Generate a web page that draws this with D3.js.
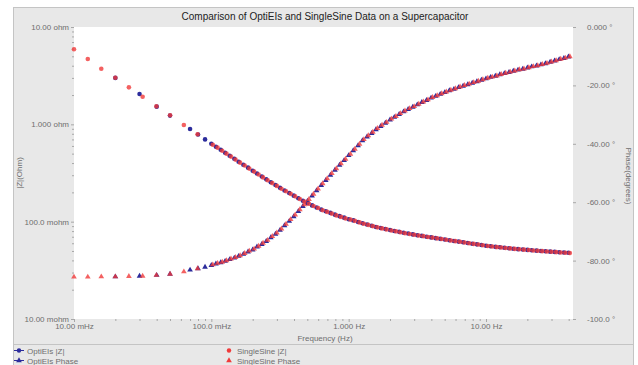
<!DOCTYPE html>
<html>
<head>
<meta charset="utf-8">
<script src="https://cdn.jsdelivr.net/npm/d3@7"></script>
<style>
  body { margin: 0; background: #fff; }
  text { font-family: "Liberation Sans", Arial, sans-serif; }
</style>
</head>
<body>
<div id="chart"></div>
<script>
// OptiEIs data
let oeFreq = [0.02, 0.03, 0.04, 0.05, 0.07, 0.08, 0.09,
  0.100, 0.108, 0.117, 0.126, 0.136, 0.147, 0.158, 0.171, 0.185, 0.200,
  0.215, 0.233, 0.251, 0.271, 0.293, 0.316, 0.341, 0.369, 0.398, 0.430,
  0.464, 0.501, 0.541, 0.584, 0.631, 0.681, 0.736, 0.794, 0.858, 0.926,
  1.00, 1.08, 1.17, 1.26, 1.36, 1.47, 1.58, 1.71, 1.85, 2.00,
  2.15, 2.33, 2.51, 2.71, 2.93, 3.16, 3.41, 3.69, 3.98, 4.30,
  4.64, 5.01, 5.41, 5.84, 6.31, 6.81, 7.36, 7.94, 8.58, 9.26,
  10.0, 10.8, 11.7, 12.6, 13.6, 14.7, 15.8, 17.1, 18.5, 20.0,
  21.5, 23.3, 25.1, 27.1, 29.3, 31.6, 34.1, 36.9, 39.8];
let oeZ = [3.00, 2.05, 1.52, 1.23, 0.895, 0.785, 0.700,
  0.631, 0.588, 0.548, 0.511, 0.476, 0.443, 0.413, 0.385, 0.359, 0.334,
  0.312, 0.291, 0.272, 0.254, 0.238, 0.223, 0.209, 0.197, 0.185, 0.174,
  0.164, 0.155, 0.147, 0.140, 0.133, 0.128, 0.123, 0.118, 0.114, 0.110,
  0.106, 0.103, 0.0993, 0.0962, 0.0935, 0.0908, 0.0883, 0.0862, 0.0841, 0.0820,
  0.0803, 0.0786, 0.0769, 0.0755, 0.0740, 0.0726, 0.0714, 0.0701, 0.0689, 0.0677,
  0.0666, 0.0655, 0.0644, 0.0634, 0.0624, 0.0614, 0.0604, 0.0594, 0.0585, 0.0575,
  0.0566, 0.0559, 0.0551, 0.0545, 0.0539, 0.0533, 0.0527, 0.0522, 0.0518, 0.0513,
  0.0508, 0.0504, 0.0500, 0.0496, 0.0492, 0.0489, 0.0485, 0.0482, 0.0479];
let oePhase = [-85.5, -85.3, -85.0, -84.6, -83.2, -82.7, -82.2,
  -81.6, -81.1, -80.7, -80.2, -79.6, -79.1, -78.5, -77.8, -77.0, -76.3,
  -75.3, -74.4, -73.4, -72.1, -70.9, -69.6, -68.0, -66.5, -64.9, -63.1,
  -61.4, -59.6, -57.8, -56.0, -54.2, -52.5, -50.7, -49.0, -47.3, -45.7,
  -44.0, -42.3, -40.6, -38.9, -37.6, -36.4, -35.1, -34.0, -32.9, -31.8,
  -30.9, -29.9, -29.0, -28.2, -27.4, -26.6, -25.8, -25.1, -24.3, -23.7,
  -23.0, -22.4, -21.8, -21.3, -20.7, -20.2, -19.7, -19.2, -18.7, -18.2,
  -17.7, -17.2, -16.8, -16.3, -15.9, -15.5, -15.1, -14.7, -14.4, -14.0,
  -13.6, -13.3, -12.9, -12.5, -12.0, -11.6, -11.1, -10.7, -10.2];

// SingleSine data
let ssFreq = [0.01, 0.0126, 0.0158, 0.02, 0.0251, 0.0316, 0.0398, 0.0501, 0.0631, 0.0794,
  0.1025, 0.111, 0.120, 0.129, 0.139, 0.150, 0.162, 0.175, 0.189, 0.205,
  0.221, 0.238, 0.257, 0.278, 0.300, 0.324, 0.350, 0.378, 0.408, 0.441,
  0.476, 0.514, 0.555, 0.599, 0.647, 0.698, 0.754, 0.814, 0.879, 0.949,
  1.03, 1.11, 1.20, 1.29, 1.39, 1.50, 1.62, 1.75, 1.89, 2.05,
  2.21, 2.38, 2.57, 2.78, 3.00, 3.24, 3.50, 3.78, 4.08, 4.41,
  4.76, 5.14, 5.55, 5.99, 6.47, 6.98, 7.54, 8.14, 8.79, 9.49,
  10.3, 11.1, 12.0, 12.9, 13.9, 15.0, 16.2, 17.5, 18.9, 20.5,
  22.1, 23.8, 25.7, 27.8, 30.0, 32.4, 35.0, 37.8, 40.8];
let ssZ = [5.90, 4.69, 3.72, 3.01, 2.40, 1.92, 1.53, 1.24, 0.984, 0.790,
  0.618, 0.576, 0.536, 0.500, 0.466, 0.434, 0.404, 0.377, 0.351, 0.327,
  0.305, 0.285, 0.266, 0.249, 0.233, 0.218, 0.205, 0.193, 0.182, 0.171,
  0.161, 0.153, 0.145, 0.138, 0.131, 0.126, 0.121, 0.116, 0.112, 0.108,
  0.105, 0.102, 0.0983, 0.0952, 0.0926, 0.0899, 0.0874, 0.0853, 0.0833, 0.0812,
  0.0795, 0.0778, 0.0761, 0.0747, 0.0733, 0.0722, 0.0710, 0.0697, 0.0686, 0.0674,
  0.0663, 0.0652, 0.0641, 0.0631, 0.0621, 0.0611, 0.0601, 0.0591, 0.0582, 0.0572,
  0.0563, 0.0556, 0.0548, 0.0543, 0.0537, 0.0531, 0.0525, 0.0520, 0.0516, 0.0511,
  0.0506, 0.0502, 0.0498, 0.0494, 0.0490, 0.0487, 0.0483, 0.0480, 0.0477];
let ssPhase = [-85.6, -85.6, -85.5, -85.5, -85.4, -85.3, -85.0, -84.6, -83.8, -82.7,
  -81.4, -80.9, -80.5, -80.0, -79.4, -78.9, -78.3, -77.5, -76.7, -76.0,
  -75.0, -74.0, -73.0, -71.7, -70.5, -69.1, -67.5, -65.9, -64.3, -62.5,
  -60.8, -59.0, -57.2, -55.4, -53.6, -51.9, -50.1, -48.5, -46.8, -45.2,
  -43.5, -41.8, -40.1, -38.5, -37.2, -36.0, -34.7, -33.6, -32.6, -31.5,
  -30.6, -29.6, -28.7, -27.9, -27.2, -26.4, -25.6, -24.9, -24.1, -23.5,
  -22.8, -22.2, -21.6, -21.1, -20.5, -20.0, -19.5, -19.0, -18.5, -18.0,
  -17.5, -17.1, -16.7, -16.2, -15.8, -15.4, -15.0, -14.6, -14.3, -13.9,
  -13.5, -13.2, -12.8, -12.4, -11.9, -11.5, -11.0, -10.6, -10.1];

// ticks
let freqTicks = [0.01, 0.1, 1, 10];
let freqLabels = ['10.00 mHz', '100.0 mHz', '1.000 Hz', '10.00 Hz'];
let zTicks = [10, 1, 0.1, 0.01];
let zLabels = ['10.00 ohm', '1.000 ohm', '100.0 mohm', '10.00 mohm'];
let phaseTicks = [0, -20, -40, -60, -80, -100];
let phaseLabels = ['0.000 \u00b0', '-20.00 \u00b0', '-40.00 \u00b0', '-60.00 \u00b0', '-80.00 \u00b0', '-100.0 \u00b0'];

let width = 638;
let height = 365;
let plot = {left: 74, right: 573, top: 27, bottom: 319};
let blue = '#2c2c9c';
let red = '#f03a3a';
let labelColor = '#6e6e6e';

let svg = d3.select('#chart')
    .append('svg')
    .attr('width', width)
    .attr('height', height);

// panel background
svg.append('rect')
    .attr('x', 13.5).attr('y', 7.5)
    .attr('width', 620).attr('height', 360)
    .attr('fill', '#e8e8e8')
    .attr('stroke', '#c4c4c4');
svg.append('line')
    .attr('x1', 13.5).attr('x2', 633.5)
    .attr('y1', 344.5).attr('y2', 344.5)
    .attr('stroke', '#c4c4c4');
svg.append('rect')
    .attr('x', plot.left).attr('y', plot.top)
    .attr('width', plot.right - plot.left)
    .attr('height', plot.bottom - plot.top)
    .attr('fill', '#fff');

let x = d3.scaleLog().domain([0.01, 43]).range([plot.left, plot.right]);
let yZ = d3.scaleLog().domain([0.01, 10]).range([plot.bottom, plot.top]);
let yP = d3.scaleLinear().domain([-100, 0]).range([plot.bottom, plot.top]);

function minorTicks(lo, hi) {
    let out = [];
    for (let d = lo; d < hi; d *= 10) {
        for (let m = 2; m < 10; m++) {
            if (d * m < hi) out.push(d * m);
        }
    }
    return out;
}

function styleAxis(g) {
    g.select('.domain').remove();
    g.selectAll('line').attr('stroke', '#a8a8a8');
    g.selectAll('text')
        .attr('fill', labelColor)
        .style('font-size', '8px')
        .style('font-family', '"Liberation Sans", Arial, sans-serif');
}

// x axis
svg.append('g')
    .attr('transform', 'translate(0,' + plot.bottom + ')')
    .call(d3.axisBottom(x).tickValues(freqTicks)
        .tickFormat((d, i) => freqLabels[i]).tickSize(3).tickPadding(1.5))
    .call(styleAxis);
svg.append('g')
    .attr('transform', 'translate(0,' + plot.bottom + ')')
    .call(d3.axisBottom(x).tickValues(minorTicks(0.01, 43)).tickFormat('').tickSize(2))
    .call(styleAxis);

// left axis
svg.append('g')
    .attr('transform', 'translate(' + plot.left + ',0)')
    .call(d3.axisLeft(yZ).tickValues(zTicks)
        .tickFormat((d, i) => zLabels[i]).tickSize(3).tickPadding(2))
    .call(styleAxis);
svg.append('g')
    .attr('transform', 'translate(' + plot.left + ',0)')
    .call(d3.axisLeft(yZ).tickValues(minorTicks(0.01, 10)).tickFormat('').tickSize(2))
    .call(styleAxis);

// right axis
svg.append('g')
    .attr('transform', 'translate(' + plot.right + ',0)')
    .call(d3.axisRight(yP).tickValues(phaseTicks)
        .tickFormat((d, i) => phaseLabels[i]).tickSize(3).tickPadding(11))
    .call(styleAxis);

// titles
svg.append('text')
    .attr('x', 325).attr('y', 20)
    .attr('text-anchor', 'middle')
    .attr('fill', '#222')
    .style('font-size', '10px')
    .text('Comparison of OptiEIs and SingleSine Data on a Supercapacitor');
svg.append('text')
    .attr('x', 325).attr('y', 341)
    .attr('text-anchor', 'middle')
    .attr('fill', labelColor)
    .style('font-size', '8px')
    .text('Frequency (Hz)');
svg.append('text')
    .attr('transform', 'translate(22,173) rotate(-90)')
    .attr('text-anchor', 'middle')
    .attr('fill', labelColor)
    .style('font-size', '8px')
    .text('|Z|(Ohm)');
svg.append('text')
    .attr('transform', 'translate(626,176) rotate(90)')
    .attr('text-anchor', 'middle')
    .attr('fill', labelColor)
    .style('font-size', '8px')
    .text('Phase(degrees)');

// markers
let tri = d3.symbol().type(d3.symbolTriangle).size(14);

function drawSeries(freq, z, phase, color, opacity) {
    let g = svg.append('g').attr('fill', color).attr('fill-opacity', opacity);
    g.selectAll('circle')
        .data(d3.zip(freq, z))
        .enter().append('circle')
        .attr('cx', d => x(d[0]))
        .attr('cy', d => yZ(d[1]))
        .attr('r', 2.3);
    g.selectAll('path')
        .data(d3.zip(freq, phase))
        .enter().append('path')
        .attr('d', tri)
        .attr('transform', d => 'translate(' + x(d[0]) + ',' + yP(d[1]) + ')');
}

drawSeries(oeFreq, oeZ, oePhase, blue, 1);
drawSeries(ssFreq, ssZ, ssPhase, red, 0.8);

// legend
let legendItems = [
    {name: 'OptiEIs |Z|', color: blue, shape: 'circle', line: true, x: 19, y: 350.5},
    {name: 'OptiEIs Phase', color: blue, shape: 'triangle', line: true, x: 19, y: 360.5},
    {name: 'SingleSine |Z|', color: red, shape: 'circle', line: false, x: 229, y: 350.5},
    {name: 'SingleSine Phase', color: red, shape: 'triangle', line: false, x: 229, y: 360.5}
];
let legend = svg.selectAll('.legend')
    .data(legendItems)
    .enter().append('g')
    .attr('class', 'legend')
    .attr('transform', d => 'translate(' + d.x + ',' + d.y + ')');
legend.filter(d => d.line).append('line')
    .attr('x1', -5).attr('x2', 5)
    .attr('stroke', d => d.color)
    .attr('stroke-width', 1);
legend.filter(d => d.shape == 'circle').append('circle')
    .attr('r', 2.2)
    .attr('fill', d => d.color);
legend.filter(d => d.shape == 'triangle').append('path')
    .attr('d', tri)
    .attr('fill', d => d.color);
legend.append('text')
    .attr('x', 8)
    .attr('y', 3)
    .attr('fill', labelColor)
    .style('font-size', '8px')
    .text(d => d.name);
</script>
</body>
</html>
